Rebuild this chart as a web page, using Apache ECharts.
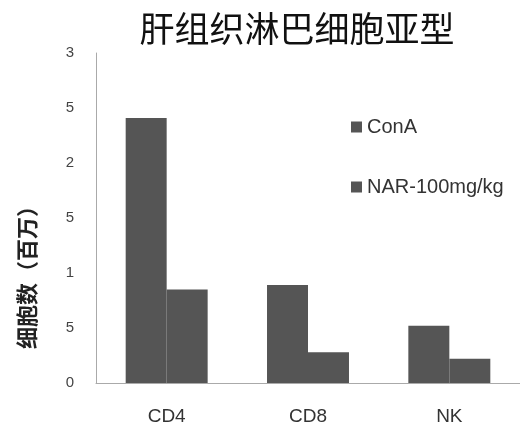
<!DOCTYPE html>
<html><head><meta charset="utf-8">
<script src="https://cdn.jsdelivr.net/npm/echarts@6/dist/echarts.min.js"></script>
<style>html,body{margin:0;padding:0;background:#fff}#c{width:520px;height:440px}</style>
</head><body><div id="c"></div>
<script>
var categories = ['CD4', 'CD8', 'NK'];
var seriesNames = ['ConA', 'NAR-100mg/kg'];
var conA = [2.41, 0.89, 0.52];
var nar = [0.85, 0.28, 0.22];
var yTickLabels = ['0', '5', '1', '5', '2', '5', '3'];
var chartTitle = '肝组织淋巴细胞亚型';
var yName = '细胞数（百万）';

var chart = echarts.init(document.getElementById('c'));
var font = '"Liberation Sans", "Noto Sans CJK SC", sans-serif';
chart.setOption({
  animation: false,
  title: {text: chartTitle, left: 292, top: 6, textAlign: 'center',
    textStyle: {fontSize: 35, fontWeight: 'normal', color: '#111', fontFamily: '"Noto Sans CJK SC", sans-serif'}},
  legend: {orient: 'vertical', left: 346, top: 112, itemGap: 40, itemWidth: 11, itemHeight: 11,
    icon: 'rect', data: seriesNames,
    textStyle: {fontSize: 20, color: '#333', fontFamily: font}},
  grid: {left: 96, right: -4, top: 53, bottom: 57},
  xAxis: {type: 'category', data: categories,
    axisLine: {lineStyle: {color: '#aaa'}}, axisTick: {show: false},
    axisLabel: {margin: 24, fontSize: 19, color: '#333', fontFamily: font}},
  yAxis: {type: 'value', min: 0, max: 3, interval: 0.5,
    axisLine: {show: true, lineStyle: {color: '#aaa'}}, axisTick: {show: false},
    splitLine: {show: false},
    axisLabel: {margin: 22, fontSize: 15, color: '#444', fontFamily: font,
      formatter: function (v) { return yTickLabels[Math.round(v * 2)]; }}},
  graphic: [{type: 'text', left: 16, top: 195, rotation: Math.PI / 2,
    style: {text: yName, fontSize: 22, fontWeight: 'bold', fill: '#222', fontFamily: '"Noto Sans CJK SC", sans-serif'}}],
  series: [
    {name: seriesNames[0], type: 'bar', data: conA, barGap: '0%', barCategoryGap: '42%',
      itemStyle: {color: '#555'}},
    {name: seriesNames[1], type: 'bar', data: nar, itemStyle: {color: '#555'}}
  ]
});
</script></body></html>
